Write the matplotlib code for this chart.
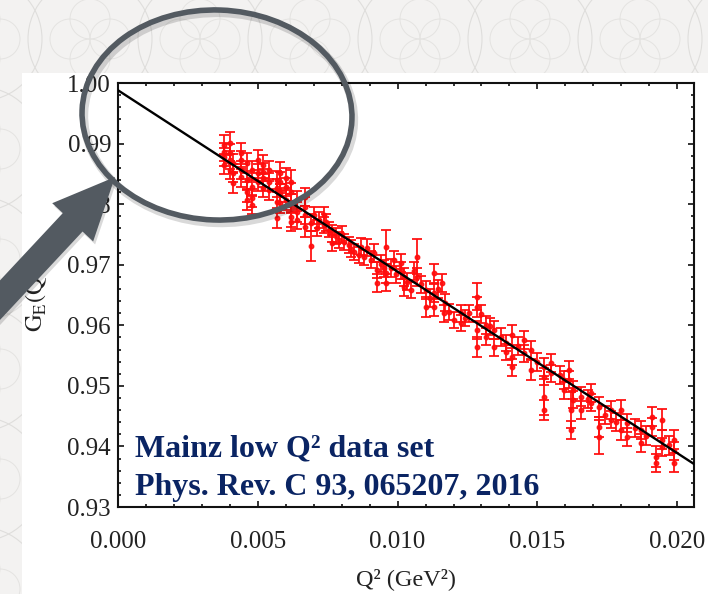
import matplotlib
matplotlib.use("Agg")
import matplotlib.pyplot as plt
import numpy as np
from matplotlib.patches import Circle, Ellipse, Rectangle, FancyArrow
from matplotlib.ticker import MultipleLocator, FormatStrFormatter

plt.rcParams['font.family'] = ['Liberation Serif', 'DejaVu Serif']
plt.rcParams['mathtext.fontset'] = 'stix'

# Mainz low Q^2 data: Q^2 (GeV^2), G_E, error
q2 = [0.00380, 0.00380, 0.00380, 0.00380,
      0.00400, 0.00400, 0.00400, 0.00400,
      0.00410, 0.00410, 0.00410,
      0.00440, 0.00440, 0.00440, 0.00440,
      0.00460, 0.00460, 0.00460, 0.00460,
      0.00480, 0.00480, 0.00480, 0.00480,
      0.00500, 0.00500, 0.00500,
      0.00520, 0.00520, 0.00520, 0.00520,
      0.00540, 0.00540, 0.00540,
      0.00570, 0.00570, 0.00570, 0.00570,
      0.00580, 0.00580, 0.00580, 0.00580,
      0.00600, 0.00600, 0.00600,
      0.00620, 0.00620, 0.00620, 0.00620, 0.00620,
      0.00640, 0.00640, 0.00640,
      0.00670, 0.00670, 0.00670, 0.00670,
      0.00691, 0.00691, 0.00719, 0.00737, 0.00737,
      0.00766, 0.00766, 0.00791, 0.00809, 0.00844, 0.00862,
      0.00891, 0.00905, 0.00927, 0.00927,
      0.00959, 0.00959, 0.00959, 0.00987,
      0.01013, 0.01013, 0.01023, 0.01023, 0.01048,
      0.01070, 0.01070, 0.01102, 0.01102,
      0.01131, 0.01131, 0.01131, 0.01159, 0.01166,
      0.01170, 0.01184, 0.01202, 0.01227, 0.01227, 0.01256,
      0.01284, 0.01284, 0.01284, 0.01284,
      0.01317, 0.01317, 0.01345, 0.01345,
      0.01388, 0.01388, 0.01410, 0.01410, 0.01410,
      0.01453, 0.01453, 0.01478, 0.01478,
      0.01524, 0.01524, 0.01524, 0.01524,
      0.01549, 0.01549, 0.01596, 0.01596,
      0.01614, 0.01614, 0.01621, 0.01621, 0.01628, 0.01628,
      0.01657, 0.01657, 0.01692, 0.01692,
      0.01721, 0.01721, 0.01721, 0.01764, 0.01764,
      0.01800, 0.01800, 0.01821, 0.01821,
      0.01871, 0.01871, 0.01911, 0.01911,
      0.01925, 0.01925, 0.01946, 0.01946, 0.01946,
      0.01989, 0.01989, 0.01989,
      0.00700, 0.00710, 0.00745, 0.00755, 0.00780, 0.00800,
      0.00825, 0.00835, 0.00870, 0.00880, 0.00915, 0.00940,
      0.00950, 0.00975, 0.00995, 0.01035, 0.01060, 0.01085,
      0.01115, 0.01145, 0.01240, 0.01300, 0.01330, 0.01370,
      0.01430, 0.01500, 0.01580, 0.01680, 0.01740, 0.01780,
      0.01850, 0.01890, 0.01970]
g_e = [0.9898, 0.9886, 0.9878, 0.9865,
       0.9901, 0.9884, 0.9873, 0.9856,
       0.9868, 0.9851, 0.9835,
       0.9884, 0.9873, 0.9856, 0.9845,
       0.9868, 0.9840, 0.9820, 0.9807,
       0.9856, 0.9828, 0.9810, 0.9799,
       0.9873, 0.9851, 0.9837,
       0.9865, 0.9853, 0.9843, 0.9827,
       0.9856, 0.9837, 0.9823,
       0.9840, 0.9827, 0.9804, 0.9777,
       0.9851, 0.9837, 0.9818, 0.9802,
       0.9843, 0.9828, 0.9807,
       0.9837, 0.9820, 0.9802, 0.9779, 0.9771,
       0.9807, 0.9787, 0.9774,
       0.9812, 0.9795, 0.9782, 0.9762,
       0.9769, 0.9731, 0.9774, 0.9782, 0.9765,
       0.9752, 0.9736, 0.9741, 0.9738, 0.9721, 0.9716,
       0.9728, 0.9708, 0.9691, 0.9670,
       0.9729, 0.9686, 0.9670, 0.9708,
       0.9703, 0.9691, 0.9680, 0.9663, 0.9658,
       0.9713, 0.9680, 0.9658, 0.9630,
       0.9686, 0.9653, 0.9630, 0.9670, 0.9620,
       0.9637, 0.9622, 0.9609, 0.9620, 0.9604, 0.9620,
       0.9647, 0.9630, 0.9592, 0.9564,
       0.9601, 0.9581, 0.9592, 0.9564,
       0.9571, 0.9556, 0.9584, 0.9548, 0.9531,
       0.9576, 0.9554, 0.9559, 0.9526,
       0.9531, 0.9515, 0.9482, 0.9460,
       0.9538, 0.9521, 0.9510, 0.9493,
       0.9526, 0.9510, 0.9460, 0.9427, 0.9493, 0.9477,
       0.9482, 0.9460, 0.9488, 0.9472,
       0.9465, 0.9432, 0.9416, 0.9460, 0.9444,
       0.9460, 0.9427, 0.9439, 0.9416,
       0.9427, 0.9406, 0.9449, 0.9432,
       0.9383, 0.9373, 0.9444, 0.9411, 0.9399,
       0.9411, 0.9392, 0.9373,
       0.9782, 0.9760, 0.9770, 0.9758, 0.9748, 0.9750,
       0.9733, 0.9726, 0.9730, 0.9712, 0.9720, 0.9702,
       0.9694, 0.9695, 0.9684, 0.9672, 0.9690, 0.9668,
       0.9645, 0.9660, 0.9612, 0.9618, 0.9598, 0.9580,
       0.9566, 0.9540, 0.9518, 0.9478, 0.9452, 0.9440,
       0.9430, 0.9418, 0.9402]
dg = [0.0016, 0.0015, 0.0015, 0.0016,
      0.0018, 0.0016, 0.0015, 0.0015,
      0.0015, 0.0015, 0.0016,
      0.0017, 0.0015, 0.0015, 0.0016,
      0.0016, 0.0015, 0.0016, 0.0017,
      0.0016, 0.0015, 0.0015, 0.0016,
      0.0017, 0.0015, 0.0015,
      0.0016, 0.0015, 0.0015, 0.0016,
      0.0015, 0.0015, 0.0016,
      0.0015, 0.0015, 0.0016, 0.0017,
      0.0018, 0.0016, 0.0015, 0.0016,
      0.0016, 0.0015, 0.0016,
      0.0020, 0.0015, 0.0015, 0.0016, 0.0015,
      0.0015, 0.0016, 0.0015,
      0.0015, 0.0016, 0.0015, 0.0016,
      0.0014, 0.0025, 0.0013, 0.0014, 0.0013,
      0.0014, 0.0013, 0.0013, 0.0013, 0.0014, 0.0013,
      0.0014, 0.0014, 0.0013, 0.0015,
      0.0028, 0.0016, 0.0014, 0.0015,
      0.0015, 0.0014, 0.0015, 0.0014, 0.0013,
      0.0029, 0.0015, 0.0015, 0.0016,
      0.0016, 0.0015, 0.0014, 0.0015, 0.0014,
      0.0014, 0.0013, 0.0013, 0.0014, 0.0013, 0.0014,
      0.0022, 0.0016, 0.0015, 0.0016,
      0.0015, 0.0014, 0.0015, 0.0014,
      0.0013, 0.0013, 0.0016, 0.0014, 0.0014,
      0.0015, 0.0014, 0.0015, 0.0016,
      0.0015, 0.0014, 0.0030, 0.0016,
      0.0015, 0.0014, 0.0015, 0.0014,
      0.0015, 0.0014, 0.0030, 0.0015, 0.0015, 0.0014,
      0.0016, 0.0015, 0.0015, 0.0014,
      0.0017, 0.0016, 0.0028, 0.0015, 0.0014,
      0.0016, 0.0016, 0.0015, 0.0015,
      0.0015, 0.0015, 0.0016, 0.0015,
      0.0017, 0.0015, 0.0017, 0.0016, 0.0015,
      0.0016, 0.0015, 0.0016,
      0.0014, 0.0013, 0.0014, 0.0013, 0.0013, 0.0014,
      0.0013, 0.0014, 0.0014, 0.0013, 0.0015, 0.0014,
      0.0014, 0.0015, 0.0014, 0.0014, 0.0015, 0.0014,
      0.0015, 0.0015, 0.0014, 0.0015, 0.0014, 0.0015,
      0.0015, 0.0015, 0.0015, 0.0015, 0.0015, 0.0015,
      0.0015, 0.0015, 0.0016]

# fitted line end points
fit_q2 = [0.0, 0.0206]
fit_g = [0.9988, 0.9371]

x_ticks = [0.000, 0.005, 0.010, 0.015, 0.020]
y_ticks = [0.93, 0.94, 0.95, 0.96, 0.97, 0.98, 0.99, 1.00]

fig = plt.figure(figsize=(7.08, 5.94), dpi=100)
fig.patch.set_facecolor('#f3f2f1')

# faint slide background pattern
for cx in np.arange(-0.2, 7.6, 1.1):
    for cy in [5.55, 4.45, 3.35, 2.25, 1.15, 0.05]:
        fig.add_artist(Circle((cx, cy), 0.62, transform=fig.dpi_scale_trans,
                              fill=False, ec='#dfdedc', lw=0.8, zorder=-10))
        for ox, oy in [(0.2, 0), (-0.2, 0), (0, 0.2), (0, -0.2)]:
            fig.add_artist(Circle((cx + ox, cy + oy), 0.2, transform=fig.dpi_scale_trans,
                                  fill=False, ec='#e4e3e1', lw=0.7, zorder=-10))

# white panel
fig.add_artist(Rectangle((22 / 708, 0), 1 - 22 / 708, (594 - 73) / 594,
                         transform=fig.transFigure, fc='white', ec='none', zorder=-5))

ax = fig.add_axes([118 / 708, 1 - 507 / 594, (694 - 118) / 708, (507 - 83) / 594])
ax.set_facecolor('white')

ax.plot(fit_q2, fit_g, color='black', lw=1.7, zorder=3)
ax.errorbar(q2, g_e, yerr=dg, fmt='o', color='#ff0d0d', ms=3.2, elinewidth=1.4,
            capsize=3.5, capthick=1.4, alpha=0.9, zorder=2)

ax.set_xlim(0, 0.0206)
ax.set_ylim(0.93, 1.00)
ax.set_xticks(x_ticks)
ax.set_yticks(y_ticks)
ax.xaxis.set_minor_locator(MultipleLocator(0.001))
ax.yaxis.set_minor_locator(MultipleLocator(0.002))
ax.xaxis.set_major_formatter(FormatStrFormatter('%.3f'))
ax.yaxis.set_major_formatter(FormatStrFormatter('%.2f'))
ax.tick_params(which='both', direction='in', top=True, right=True, width=1.2,
               colors='#111111', labelcolor='#222222', labelsize=18)
ax.tick_params(which='major', length=4.5)
ax.tick_params(which='minor', length=2.5)
ax.tick_params(axis='x', pad=17)
ax.tick_params(axis='y', pad=5)
for s in ax.spines.values():
    s.set_linewidth(1.5)
    s.set_color('#111111')

ax.set_xlabel('Q² (GeV²)', fontsize=17.5, color='#222222', labelpad=11)
ax.set_ylabel(r'$\mathrm{G_E(Q^2)}$', fontsize=17.5, color='#222222', labelpad=12)

# reference text
fig.text(135 / 708, 1 - 456 / 594, 'Mainz low Q² data set', fontsize=23, fontweight='bold',
         color='#0a2463', va='baseline', zorder=5)
fig.text(135 / 708, 1 - 495 / 594, 'Phys. Rev. C 93, 065207, 2016', fontsize=23,
         fontweight='bold', color='#0a2463', va='baseline', zorder=5)

# zoom circle with soft shadow
fig.add_artist(Ellipse((2.19, 4.76), 2.70, 2.10, angle=-2, transform=fig.dpi_scale_trans,
                       fill=False, ec='black', lw=6, alpha=0.15, zorder=9))
fig.add_artist(Ellipse((2.17, 4.79), 2.70, 2.10, angle=-2, transform=fig.dpi_scale_trans,
                       fill=False, ec='#535a61', lw=4, zorder=10))

# pointer arrow with soft shadow
fig.add_artist(FancyArrow(-1.23, 1.57, 2.40, 2.57, width=0.27, head_width=0.56,
                          head_length=0.62, length_includes_head=True,
                          transform=fig.dpi_scale_trans, fc='black', ec='none',
                          alpha=0.15, zorder=9))
fig.add_artist(FancyArrow(-1.25, 1.60, 2.40, 2.57, width=0.27, head_width=0.56,
                          head_length=0.62, length_includes_head=True,
                          transform=fig.dpi_scale_trans, fc='#535a61', ec='none',
                          zorder=10))

fig.savefig('out.png', dpi=100, facecolor=fig.get_facecolor())
